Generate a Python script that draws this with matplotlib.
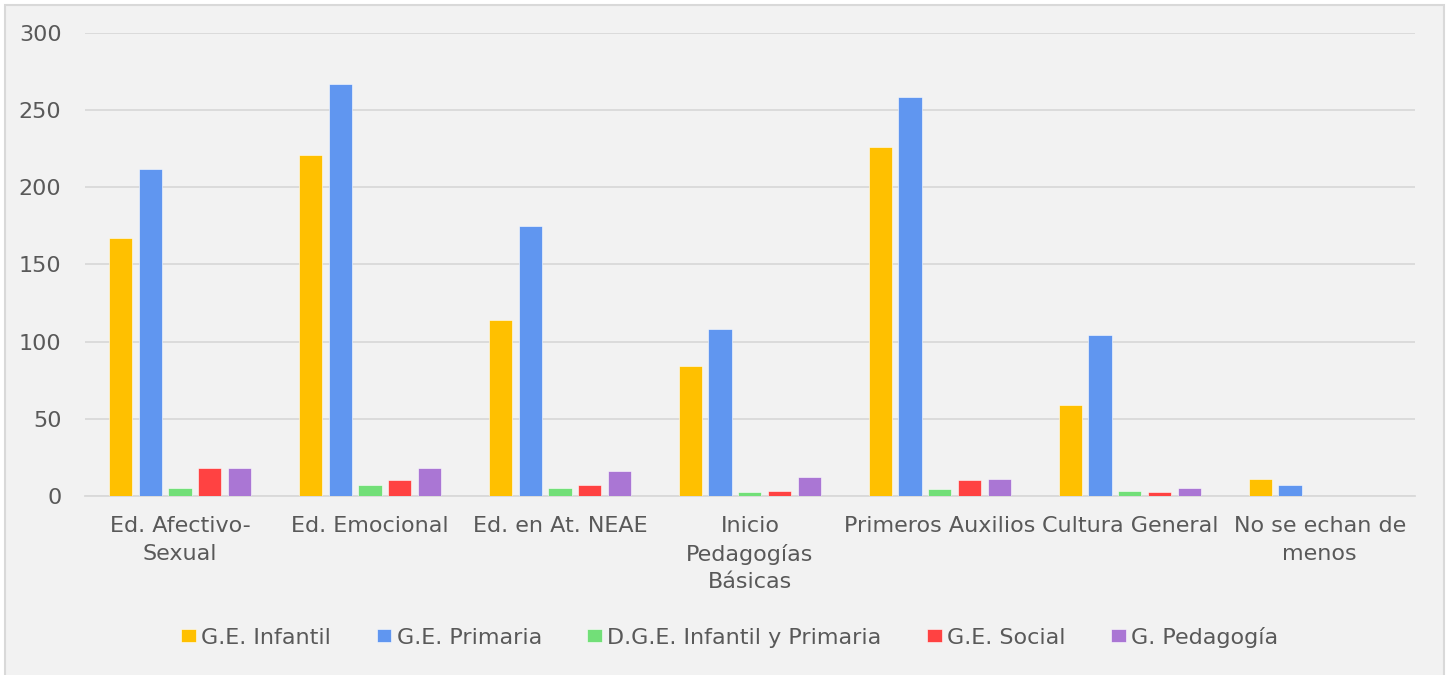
import numpy as np
import matplotlib
matplotlib.use("Agg")
import matplotlib.pyplot as plt
from matplotlib.patches import Rectangle

# data
categories = ["Ed. Afectivo-\nSexual", "Ed. Emocional", "Ed. en At. NEAE",
              "Inicio\nPedagogías\nBásicas", "Primeros Auxilios",
              "Cultura General", "No se echan de\nmenos"]
series_names = ["G.E. Infantil", "G.E. Primaria", "D.G.E. Infantil y Primaria",
                "G.E. Social", "G. Pedagogía"]
infantil = [167, 221, 114, 84, 226, 59, 11]
primaria = [212, 267, 175, 108, 259, 104, 7]
doble = [5, 7, 5, 2, 4, 3, 0]
social = [18, 10, 7, 3, 10, 2, 0]
pedagogia = [18, 18, 16, 12, 11, 5, 0]
yticks = [0, 50, 100, 150, 200, 250, 300]

colors = ["#FFC000", "#6096F0", "#72DF78", "#FF4242", "#AA76D4"]
text_col = "#595959"
bg = "#F2F2F2"

plt.rcParams["font.family"] = ["DejaVu Sans"]

fig = plt.figure(figsize=(14.51, 6.75), dpi=100, facecolor="white")
# chart area panel with light border (bottom edge runs off the image)
panel = Rectangle((0.0035, -0.02), 0.9917, 1.0126, transform=fig.transFigure,
                  facecolor=bg, edgecolor="#D9D9D9", linewidth=1.5, zorder=-10)
fig.patches.append(panel)
ax = fig.add_axes([0.0586, 0.2659, 0.9164, 0.6845])
ax.set_facecolor(bg)

x = np.arange(len(categories))
all_series = [infantil, primaria, doble, social, pedagogia]
step = 0.157
width = 0.122
for i, (vals, name) in enumerate(zip(all_series, series_names)):
    ax.bar(x + (i - 2) * step, vals, width, color=colors[i], label=name,
           edgecolor="white", linewidth=0.4, zorder=3)

ax.set_xlim(-0.5, len(categories) - 0.5)
ax.set_ylim(0, 300)
ax.set_yticks(yticks)
ax.set_xticks(x)
ax.set_xticklabels(categories, linespacing=1.45)
ax.yaxis.grid(True, color="#D9D9D9", linewidth=1.3, zorder=0)
ax.set_axisbelow(True)
for s in ["top", "right", "left"]:
    ax.spines[s].set_visible(False)
ax.spines["bottom"].set_color("#D9D9D9")
ax.spines["bottom"].set_linewidth(1.3)
ax.tick_params(axis="both", length=0, labelsize=16, labelcolor=text_col)
ax.tick_params(axis="y", pad=17)
ax.tick_params(axis="x", pad=15)

leg = fig.legend(loc="center", bbox_to_anchor=(0.503, 0.056), ncol=5, frameon=False,
                 fontsize=16, handlelength=0.65, handleheight=0.5,
                 handletextpad=0.25, columnspacing=2.05)
for t in leg.get_texts():
    t.set_color(text_col)

fig.savefig("out.png", dpi=100, facecolor="white")
